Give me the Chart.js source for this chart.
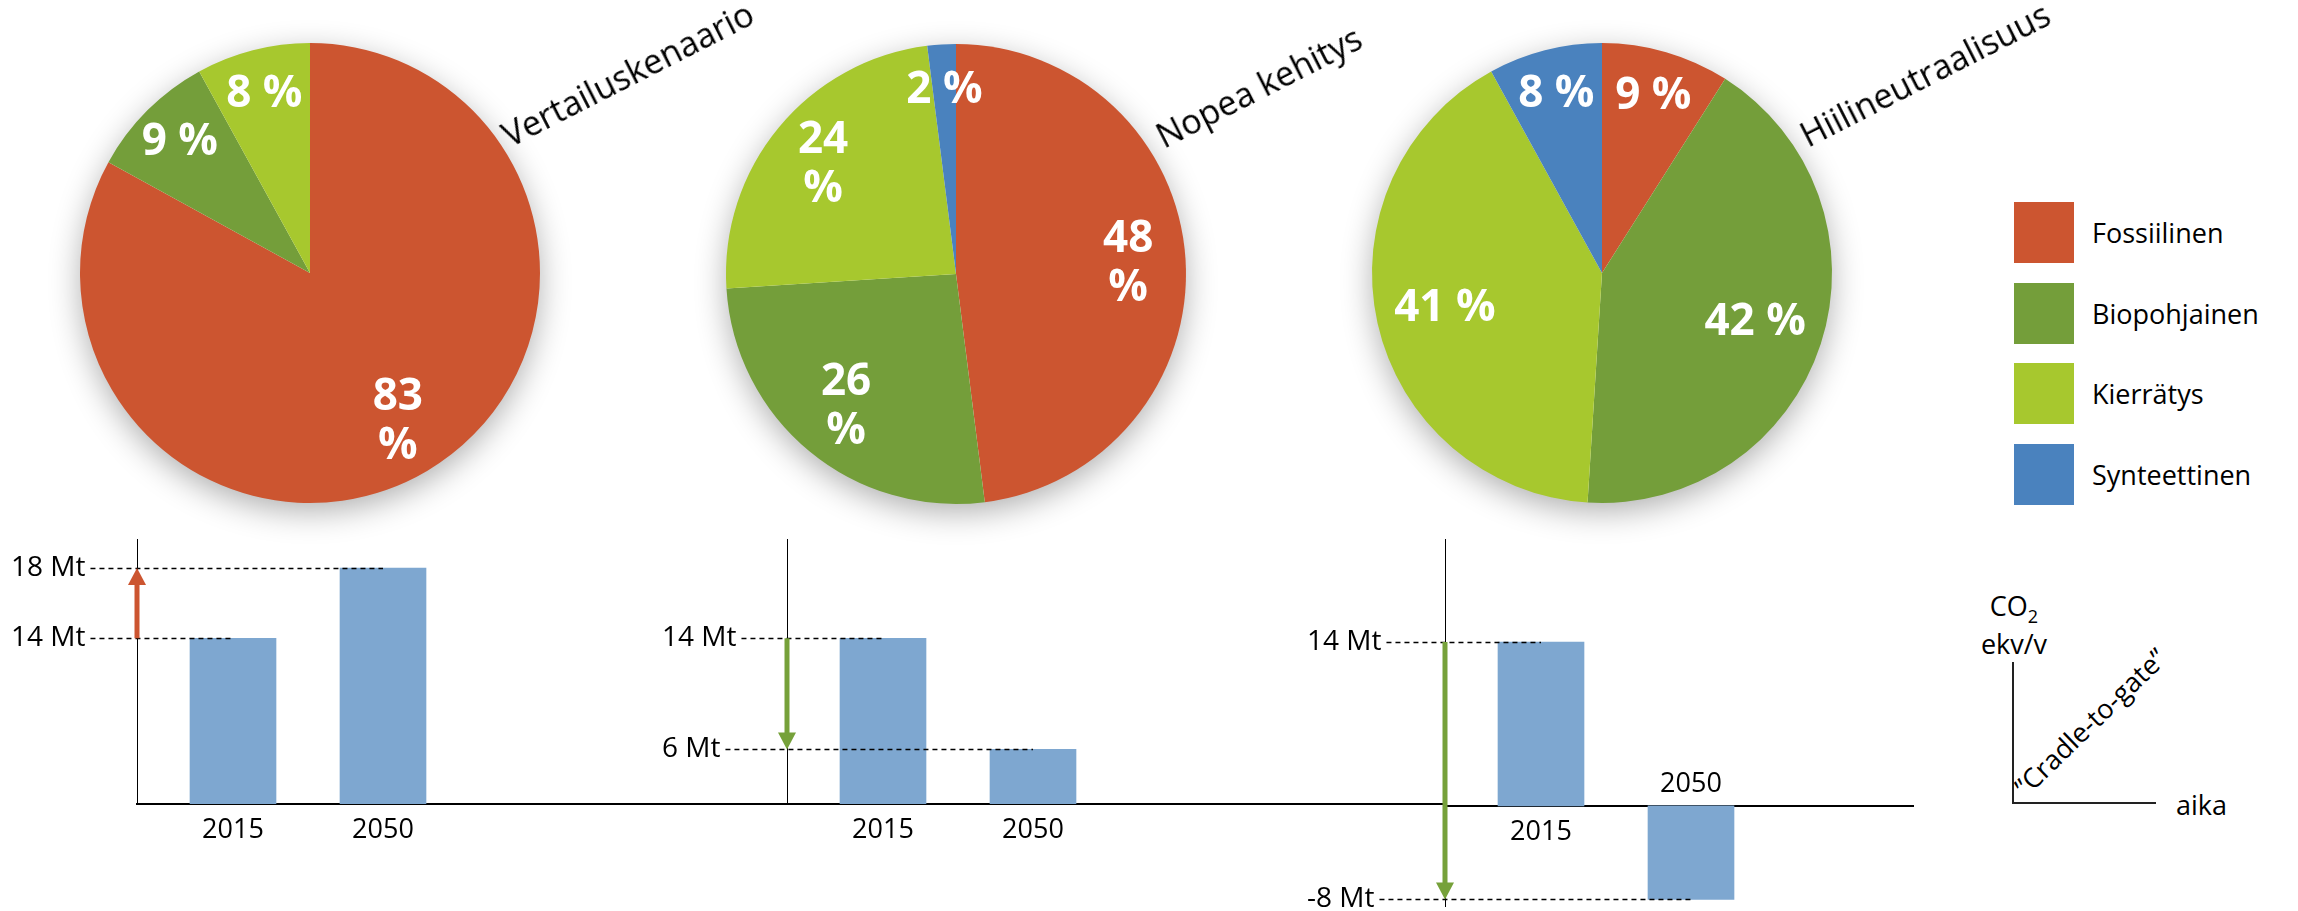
<!DOCTYPE html>
<html lang="fi">
<head>
<meta charset="UTF-8">
<title>Muovien raaka-aineet ja päästöt 2050</title>
<script src="https://cdn.jsdelivr.net/npm/chart.js"></script>
<style>
    html, body { margin: 0; padding: 0; background: #fff; }
    body {
        width: 2298px; height: 911px; position: relative; overflow: hidden;
        font-family: "Open Sans", sans-serif; color: #000;
    }
    .box { position: absolute; }
    .title {
        position: absolute; font-size: 34px; line-height: 34px; white-space: nowrap;
        transform-origin: 0 30px; transform: rotate(-27deg); z-index: 3;
    }
    #legend { position: absolute; left: 2014px; top: 202px; z-index: 3; }
    .item { height: 61px; margin-bottom: 19.5px; display: flex; align-items: center; }
    .swatch { width: 60px; height: 61px; }
    .item span { margin-left: 18px; font-size: 27px; }
    .note { position: absolute; font-size: 27px; line-height: 27px; white-space: nowrap; }
    .note sub { font-size: 18px; vertical-align: -7px; line-height: 0; }
    .line { position: absolute; background: #222; }
</style>
</head>
<body>
    <div class="box" style="left:30px; top:-7px; width:560px; height:560px;"><canvas id="pie1"></canvas></div>
    <div class="box" style="left:676px; top:-6px; width:560px; height:560px;"><canvas id="pie2"></canvas></div>
    <div class="box" style="left:1322px; top:-7px; width:560px; height:560px;"><canvas id="pie3"></canvas></div>

    <div class="title" id="t1" style="left:510px; top:118px;"></div>
    <div class="title" id="t2" style="left:1164px; top:119px;"></div>
    <div class="title" id="t3" style="left:1808px; top:118px;"></div>

    <div id="legend"></div>

    <div class="box" style="left:11px; top:520px; width:776px; height:340px;"><canvas id="bar1"></canvas></div>
    <div class="box" style="left:662px; top:520px; width:783px; height:340px;"><canvas id="bar2"></canvas></div>
    <div class="box" style="left:1307px; top:520px; width:607px; height:420px;"><canvas id="bar3"></canvas></div>

    <div class="note" style="left:1954px; top:592px; width:120px; text-align:center;">CO<sub>2</sub></div>
    <div class="note" style="left:1954px; top:630px; width:120px; text-align:center;">ekv/v</div>
    <div class="line" style="left:2012px; top:662px; width:2px; height:142px;"></div>
    <div class="line" style="left:2012px; top:802px; width:144px; height:2px;"></div>
    <div class="note" style="left:2176px; top:791px;">aika</div>
    <div class="note" style="left:2026px; top:774px; transform-origin:0 24px; transform:rotate(-44deg);">”Cradle-to-gate”</div>

    <script>
        // raaka-aineosuudet (%) skenaarioittain
        const categories = ['Fossiilinen', 'Biopohjainen', 'Kierrätys', 'Synteettinen'];
        const scenarios = ['Vertailuskenaario', 'Nopea kehitys', 'Hiilineutraalisuus'];
        const shareVertailu = [83, 9, 8, 0];
        const shareNopea = [48, 26, 24, 2];
        const shareHiili = [9, 42, 41, 8];

        // päästöt (Mt CO2 ekv/v)
        const years = ['2015', '2050'];
        const emissionsVertailu = [14, 18];
        const emissionsNopea = [14, 6];
        const emissionsHiili = [14, -8];
        const unit = 'Mt';

        const sliceColors = ['#CC5530', '#749E3A', '#A7C82E', '#4A82BE'];
        const barColor = '#7EA7D0';
        const arrowUp = '#CC5530';
        const arrowDown = '#76A13A';

        Chart.defaults.font.family = '"Open Sans", sans-serif';
        Chart.defaults.color = '#000';

        // otsikot ja selite
        ['t1', 't2', 't3'].forEach((id, i) => document.getElementById(id).textContent = scenarios[i]);
        const legend = document.getElementById('legend');
        categories.forEach((c, i) => {
            const item = document.createElement('div');
            item.className = 'item';
            item.innerHTML = '<div class="swatch" style="background:' + sliceColors[i] + '"></div><span>' + c + '</span>';
            legend.appendChild(item);
        });

        const pieDecor = {
            id: 'pieDecor',
            beforeDatasetsDraw(chart) {
                const p = chart.getDatasetMeta(0).data[0].getProps(['x', 'y', 'outerRadius'], true);
                const ctx = chart.ctx;
                ctx.save();
                ctx.shadowColor = 'rgba(0,0,0,0.32)';
                ctx.shadowBlur = 32;
                ctx.shadowOffsetY = 9;
                ctx.fillStyle = '#fff';
                ctx.beginPath();
                ctx.arc(p.x, p.y, p.outerRadius - 1, 0, Math.PI * 2);
                ctx.fill();
                ctx.restore();
            },
            afterDatasetsDraw(chart, args, opts) {
                const values = chart.data.datasets[0].data;
                const ctx = chart.ctx;
                ctx.save();
                ctx.fillStyle = '#fff';
                ctx.font = 'bold 44px "Open Sans"';
                ctx.textAlign = 'center';
                ctx.textBaseline = 'middle';
                chart.getDatasetMeta(0).data.forEach((arc, i) => {
                    const v = values[i];
                    if (!v) return;
                    const p = arc.getProps(['x', 'y', 'startAngle', 'endAngle', 'outerRadius'], true);
                    const mid = (p.startAngle + p.endAngle) / 2;
                    const twoLine = opts.wrap && v >= 10;
                    const f = twoLine ? 0.75 : (v < 15 ? 0.8 : 0.7);
                    const cx = p.x + Math.cos(mid) * p.outerRadius * f;
                    const cy = p.y + Math.sin(mid) * p.outerRadius * f;
                    if (twoLine) {
                        ctx.fillText(String(v), cx, cy - 24);
                        ctx.fillText('%', cx, cy + 25);
                    } else {
                        ctx.fillText(v + ' %', cx, cy);
                    }
                });
                ctx.restore();
            }
        };

        function makePie(id, values, wrap) {
            new Chart(document.getElementById(id), {
                type: 'pie',
                data: {
                    labels: categories,
                    datasets: [{
                        data: values,
                        backgroundColor: sliceColors,
                        borderWidth: 0,
                        hoverOffset: 0,
                        radius: 230
                    }]
                },
                options: {
                    responsive: true,
                    maintainAspectRatio: false,
                    animation: false,
                    events: [],
                    layout: { padding: 50 },
                    plugins: {
                        legend: { display: false },
                        tooltip: { enabled: false },
                        pieDecor: { wrap: wrap }
                    }
                },
                plugins: [pieDecor]
            });
        }

        makePie('pie1', shareVertailu, true);
        makePie('pie2', shareNopea, true);
        makePie('pie3', shareHiili, false);

        const tickLabel = v => v + ' ' + unit;

        const panelDecor = {
            id: 'panelDecor',
            afterDraw(chart) {
                const ctx = chart.ctx, ys = chart.scales.y, area = chart.chartArea;
                const values = chart.data.datasets[0].data.map(d => d.y);
                const bars = chart.getDatasetMeta(0).data;
                ctx.save();

                // katkoviivat arvosta pylvääseen
                ctx.font = '28px "Open Sans"';
                ctx.strokeStyle = '#000';
                ctx.lineWidth = 1.5;
                ctx.setLineDash([5, 4]);
                bars.forEach((bar, i) => {
                    const py = Math.round(ys.getPixelForValue(values[i])) + 0.5;
                    const x0 = ys.left + ctx.measureText(tickLabel(values[i])).width + 5;
                    ctx.beginPath();
                    ctx.moveTo(x0, py);
                    ctx.lineTo(bar.x, py);
                    ctx.stroke();
                });
                ctx.setLineDash([]);

                // vuosiluvut
                ctx.fillStyle = '#000';
                ctx.font = '27px "Open Sans"';
                ctx.textAlign = 'center';
                ctx.textBaseline = 'middle';
                bars.forEach((bar, i) => {
                    const base = Math.min(bar.base, area.bottom);
                    ctx.fillText(years[i], bar.x, values[i] >= 0 ? base + 26 : base - 22);
                });

                // muutosnuoli y-akselilla
                const first = values[0], last = values[values.length - 1];
                const y0 = ys.getPixelForValue(first), y1 = ys.getPixelForValue(last);
                const dir = Math.sign(y1 - y0);
                const x = area.left;
                const color = last > first ? arrowUp : arrowDown;
                ctx.strokeStyle = color;
                ctx.fillStyle = color;
                ctx.lineWidth = 5;
                ctx.beginPath();
                ctx.moveTo(x, y0);
                ctx.lineTo(x, y1 - dir * 16);
                ctx.stroke();
                ctx.beginPath();
                ctx.moveTo(x, y1);
                ctx.lineTo(x - 9, y1 - dir * 17);
                ctx.lineTo(x + 9, y1 - dir * 17);
                ctx.closePath();
                ctx.fill();
                ctx.restore();
            }
        };

        const pitch = 150, xMin = -0.64;

        function makePanel(id, values, L) {
            new Chart(document.getElementById(id), {
                type: 'bar',
                data: {
                    datasets: [{
                        data: values.map((v, i) => ({ x: i, y: v })),
                        backgroundColor: barColor,
                        barThickness: 86
                    }]
                },
                options: {
                    responsive: true,
                    maintainAspectRatio: false,
                    animation: false,
                    events: [],
                    layout: { padding: { top: L.padTop, bottom: L.padBottom, left: 0, right: 0 } },
                    plugins: { legend: { display: false }, tooltip: { enabled: false } },
                    scales: {
                        x: {
                            type: 'linear',
                            offset: false,
                            min: xMin,
                            max: xMin + L.areaWidth / pitch,
                            position: L.atZero ? { y: 0 } : 'bottom',
                            grid: { display: false },
                            border: { display: true, color: '#000', width: 2 },
                            ticks: { display: false },
                            afterFit(s) { s.height = 0; }
                        },
                        y: {
                            beginAtZero: false,
                            min: L.yMin,
                            max: L.yMax,
                            grid: { display: false },
                            border: { display: true, color: '#000', width: 1 },
                            afterBuildTicks(s) { s.ticks = values.map(v => ({ value: v })); },
                            ticks: {
                                crossAlign: 'far',
                                font: { size: 28 },
                                color: '#000',
                                callback: v => tickLabel(v)
                            },
                            afterFit(s) { s.width = L.axisWidth; }
                        }
                    }
                },
                plugins: [panelDecor]
            });
        }

        makePanel('bar1', emissionsVertailu, { areaWidth: 650, axisWidth: 126, padTop: 13, padBottom: 56, yMin: 4.556, yMax: 19.611, atZero: false });
        makePanel('bar2', emissionsNopea, { areaWidth: 658, axisWidth: 125, padTop: 13, padBottom: 56, yMin: 2.07, yMax: 21.088, atZero: false });
        makePanel('bar3', emissionsHiili, { areaWidth: 469, axisWidth: 138, padTop: 13, padBottom: 34, yMin: -8.56, yMax: 22.73, atZero: true });
    </script>
</body>
</html>
